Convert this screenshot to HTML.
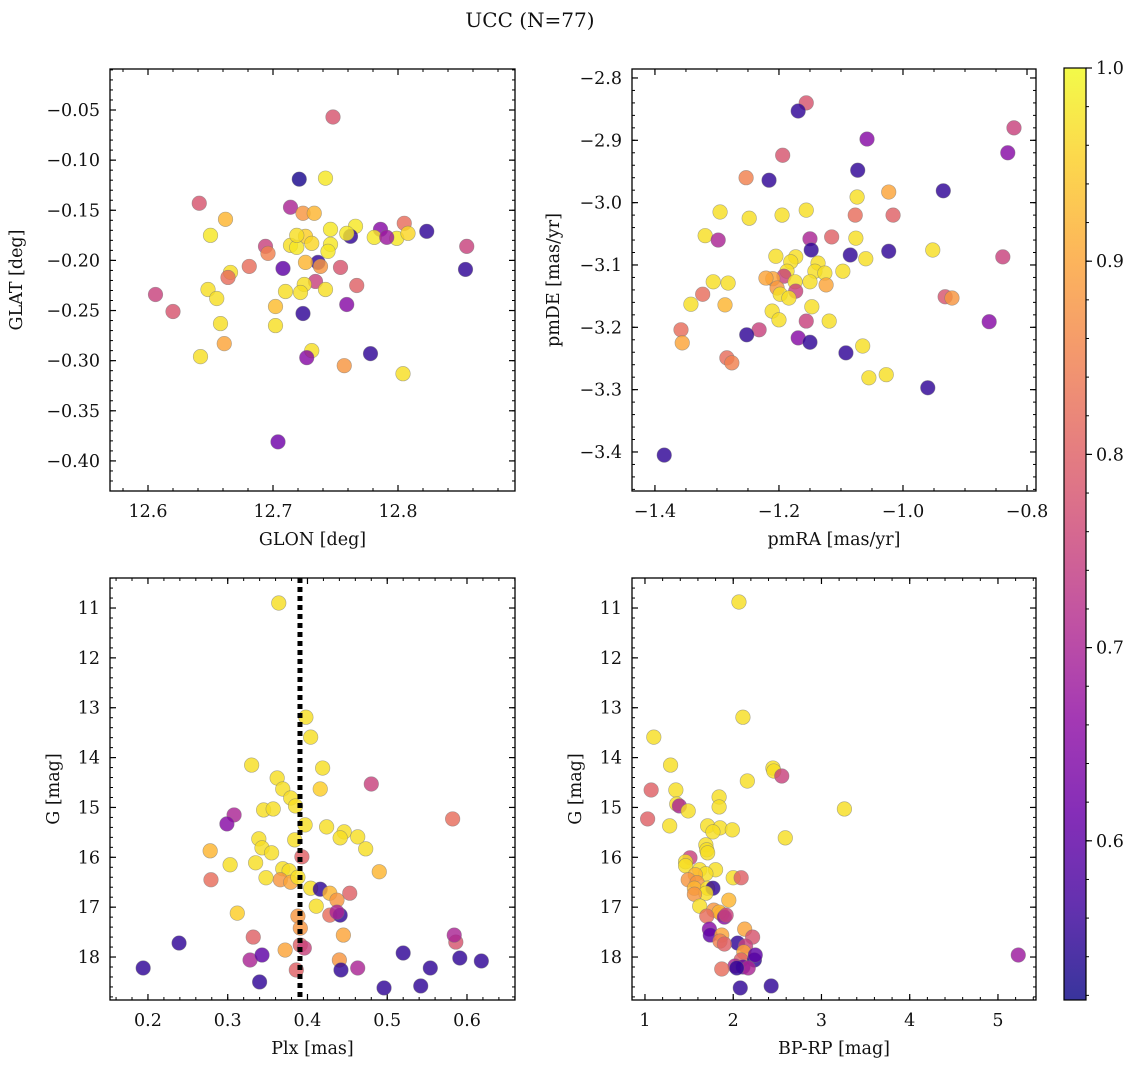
<!DOCTYPE html>
<html><head><meta charset="utf-8"><style>
body{margin:0;background:#fff}
svg text{font-family:"DejaVu Serif","Liberation Serif",serif;fill:#111}
</style></head><body>
<svg id="chart" width="1136" height="1068" viewBox="0 0 1136 1068" xmlns="http://www.w3.org/2000/svg">
<text x="530" y="27" font-size="20" text-anchor="middle">UCC (N=77)</text>
</svg>
<script>
// ---- data (per panel) ----
const p1Glon=[12.748,12.721,12.742,12.641,12.714,12.662,12.724,12.733,12.805,12.766,12.746,12.786,12.823,12.762,12.759,12.726,12.781,12.799,12.808,12.791,12.650,12.694,12.714,12.719,12.731,12.746,12.744,12.696,12.855,12.736,12.726,12.738,12.681,12.754,12.708,12.854,12.666,12.664,12.734,12.725,12.767,12.710,12.722,12.648,12.655,12.606,12.742,12.702,12.759,12.620,12.724,12.658,12.702,12.661,12.731,12.778,12.642,12.727,12.757,12.804,12.704,12.719];
const p1Glat=[-0.057,-0.119,-0.118,-0.143,-0.147,-0.159,-0.153,-0.153,-0.163,-0.166,-0.169,-0.169,-0.171,-0.176,-0.173,-0.176,-0.177,-0.178,-0.173,-0.177,-0.175,-0.186,-0.185,-0.187,-0.183,-0.184,-0.191,-0.193,-0.186,-0.202,-0.202,-0.206,-0.206,-0.207,-0.208,-0.209,-0.212,-0.217,-0.221,-0.224,-0.225,-0.231,-0.232,-0.229,-0.238,-0.234,-0.229,-0.246,-0.244,-0.251,-0.253,-0.263,-0.265,-0.283,-0.290,-0.293,-0.296,-0.297,-0.305,-0.313,-0.381,-0.175];
const p1Prob=[0.78,0.53,0.98,0.78,0.70,0.92,0.88,0.92,0.82,0.98,0.98,0.65,0.55,0.55,0.98,0.95,0.98,0.98,0.96,0.68,0.98,0.75,0.97,0.98,0.96,0.98,0.98,0.85,0.75,0.55,0.92,0.88,0.82,0.78,0.60,0.55,0.97,0.82,0.75,0.97,0.80,0.97,0.97,0.97,0.97,0.75,0.97,0.93,0.65,0.78,0.55,0.97,0.97,0.90,0.97,0.55,0.97,0.65,0.88,0.97,0.62,0.97];

const p2Pmra=[-1.156,-1.169,-0.821,-1.058,-1.073,-0.831,-1.194,-1.216,-1.253,-1.074,-1.023,-0.935,-1.295,-1.156,-1.248,-1.077,-1.016,-1.195,-1.319,-1.298,-1.115,-1.076,-1.150,-1.205,-1.173,-1.085,-1.148,-1.023,-0.952,-0.839,-1.060,-1.137,-1.181,-1.187,-1.142,-1.126,-1.097,-1.192,-1.210,-1.221,-1.174,-1.150,-1.306,-1.282,-1.124,-1.203,-1.173,-1.198,-1.184,-1.323,-1.342,-0.932,-0.921,-1.287,-1.147,-1.211,-1.200,-1.156,-1.119,-0.861,-1.232,-1.358,-1.252,-1.169,-1.150,-1.356,-1.065,-1.092,-1.284,-1.276,-1.027,-1.055,-0.960,-1.385];
const p2Pmde=[-2.840,-2.853,-2.880,-2.898,-2.948,-2.920,-2.924,-2.964,-2.960,-2.991,-2.983,-2.981,-3.015,-3.012,-3.025,-3.020,-3.020,-3.020,-3.053,-3.060,-3.055,-3.057,-3.058,-3.086,-3.087,-3.084,-3.076,-3.078,-3.076,-3.087,-3.090,-3.097,-3.095,-3.110,-3.110,-3.113,-3.110,-3.118,-3.122,-3.121,-3.127,-3.127,-3.127,-3.129,-3.132,-3.137,-3.142,-3.147,-3.153,-3.147,-3.163,-3.151,-3.153,-3.164,-3.167,-3.174,-3.188,-3.190,-3.190,-3.191,-3.204,-3.204,-3.212,-3.217,-3.224,-3.225,-3.230,-3.241,-3.249,-3.257,-3.276,-3.281,-3.297,-3.405];
const p2Prob=[0.78,0.55,0.75,0.65,0.55,0.65,0.78,0.55,0.85,0.97,0.90,0.55,0.97,0.97,0.97,0.82,0.80,0.97,0.97,0.70,0.80,0.97,0.70,0.97,0.97,0.55,0.55,0.55,0.97,0.75,0.97,0.97,0.97,0.97,0.97,0.97,0.97,0.75,0.90,0.90,0.97,0.97,0.97,0.97,0.90,0.88,0.75,0.97,0.97,0.82,0.97,0.78,0.88,0.92,0.97,0.97,0.97,0.75,0.97,0.65,0.75,0.82,0.55,0.65,0.55,0.90,0.97,0.55,0.82,0.85,0.97,0.97,0.55,0.55];

const p3Plx=[0.364,0.398,0.404,0.330,0.362,0.369,0.419,0.416,0.480,0.379,0.385,0.345,0.357,0.308,0.299,0.397,0.424,0.446,0.441,0.463,0.582,0.339,0.384,0.343,0.473,0.278,0.355,0.393,0.335,0.303,0.490,0.369,0.377,0.348,0.279,0.366,0.379,0.388,0.404,0.416,0.453,0.428,0.437,0.411,0.312,0.428,0.441,0.437,0.388,0.391,0.391,0.445,0.332,0.396,0.372,0.239,0.586,0.584,0.328,0.343,0.520,0.591,0.618,0.440,0.463,0.442,0.386,0.554,0.194,0.340,0.496,0.542];
const p3G=[10.90,13.19,13.59,14.15,14.41,14.63,14.21,14.63,14.53,14.81,14.97,15.05,15.03,15.15,15.33,15.35,15.39,15.49,15.61,15.59,15.23,15.63,15.65,15.81,15.83,15.87,15.91,15.99,16.11,16.15,16.29,16.23,16.27,16.41,16.45,16.45,16.50,16.40,16.62,16.64,16.72,16.72,16.86,16.98,17.12,17.16,17.16,17.10,17.18,17.42,17.76,17.56,17.60,17.82,17.86,17.72,17.70,17.56,18.06,17.96,17.92,18.02,18.08,18.06,18.22,18.26,18.26,18.22,18.22,18.50,18.62,18.58];
const p3Prob=[0.97,0.97,0.97,0.97,0.97,0.97,0.97,0.95,0.75,0.97,0.97,0.97,0.97,0.70,0.65,0.97,0.97,0.97,0.97,0.97,0.82,0.97,0.97,0.97,0.97,0.92,0.97,0.80,0.97,0.97,0.92,0.97,0.97,0.97,0.82,0.88,0.90,0.97,0.97,0.55,0.80,0.92,0.88,0.97,0.95,0.82,0.55,0.70,0.88,0.88,0.80,0.90,0.80,0.75,0.90,0.55,0.78,0.70,0.70,0.60,0.55,0.55,0.55,0.88,0.70,0.55,0.80,0.55,0.55,0.55,0.55,0.55];
const p3PlxLine=0.3906;

const p4Color=[2.065,2.11,1.10,1.29,2.45,2.46,2.55,2.16,1.07,1.35,1.84,1.84,1.36,1.39,1.49,3.26,1.03,1.71,1.85,1.99,1.77,1.28,2.59,1.69,1.70,1.71,1.51,1.46,1.46,1.62,1.80,1.69,1.57,2.00,2.09,1.49,1.59,1.56,1.71,1.77,1.69,1.56,1.95,1.62,1.78,1.87,1.84,1.70,1.90,1.92,2.13,1.73,1.74,1.87,2.22,1.85,2.05,1.90,2.14,2.12,2.09,2.24,2.25,5.23,2.02,2.11,2.17,1.87,2.04,2.08,2.43];
const p4G=[10.88,13.19,13.59,14.15,14.21,14.27,14.37,14.47,14.65,14.65,14.79,14.99,14.93,14.97,15.07,15.03,15.23,15.37,15.41,15.45,15.49,15.37,15.61,15.75,15.85,15.91,16.01,16.09,16.17,16.25,16.25,16.33,16.35,16.41,16.41,16.45,16.51,16.62,16.62,16.62,16.72,16.74,16.86,16.98,17.06,17.14,17.10,17.18,17.20,17.16,17.44,17.44,17.56,17.56,17.60,17.68,17.72,17.74,17.78,17.90,18.06,18.06,17.96,17.96,18.18,18.20,18.22,18.24,18.22,18.62,18.58];
const p4Prob=[0.97,0.97,0.97,0.97,0.97,0.97,0.75,0.97,0.80,0.97,0.97,0.97,0.97,0.70,0.97,0.97,0.80,0.97,0.97,0.97,0.97,0.97,0.97,0.97,0.97,0.97,0.75,0.97,0.97,0.97,0.97,0.97,0.92,0.97,0.80,0.88,0.88,0.92,0.97,0.55,0.97,0.88,0.92,0.97,0.88,0.90,0.92,0.82,0.65,0.75,0.90,0.65,0.60,0.90,0.78,0.85,0.55,0.80,0.75,0.90,0.80,0.55,0.60,0.68,0.70,0.60,0.70,0.82,0.55,0.55,0.55];

const cbTicks=[0.6,0.7,0.8,0.9,1.0];
const VMIN=0.5176, VMAX=1.0;

// ---- plasma colormap ----
const PL=["#0d0887","#41049d","#6a00a8","#8f0da4","#b12a90","#cc4778","#e16462","#f2844b","#fca636","#fcce25","#f0f921"];
function hx(h){return [1,3,5].map(i=>parseInt(h.substr(i,2),16));}
function plasma(t){t=Math.max(0,Math.min(1,t));const f=t*10,i=Math.min(9,Math.floor(f)),u=f-i;const a=hx(PL[i]),b=hx(PL[i+1]);return 'rgb('+a.map((v,k)=>Math.round(v+(b[k]-v)*u)).join(',')+')';}
function cmap(v){return plasma((v-VMIN)/(VMAX-VMIN));}

const svg=document.getElementById('chart');
const NS='http://www.w3.org/2000/svg';
function mk(tag,at,parent){const e=document.createElementNS(NS,tag);for(const k in at)e.setAttribute(k,at[k]);(parent||svg).appendChild(e);return e;}

function panel(cfg){
  const g=mk('g',{});
  
  
  const {x0,x1,y0,y1,xmin,xmax,ymin,ymax,inv}=cfg;
  const sx=v=>x0+(v-xmin)/(xmax-xmin)*(x1-x0);
  const sy=v=>inv? y0+(v-ymin)/(ymax-ymin)*(y1-y0) : y1-(v-ymin)/(ymax-ymin)*(y1-y0);
  const eps=1e-9;
  for(let k=Math.ceil(xmin/cfg.xminor-eps);k*cfg.xminor<=xmax+eps;k++){const v=k*cfg.xminor,px=sx(v);
    mk('line',{x1:px,x2:px,y1:y1,y2:y1-3,stroke:'#000','stroke-width':1},g);mk('line',{x1:px,x2:px,y1:y0,y2:y0+3,stroke:'#000','stroke-width':1},g);}
  cfg.xticks.forEach(v=>{const px=sx(v);
    mk('line',{x1:px,x2:px,y1:y1,y2:y1-6,stroke:'#000','stroke-width':1.2},g);mk('line',{x1:px,x2:px,y1:y0,y2:y0+6,stroke:'#000','stroke-width':1.2},g);
    const t=mk('text',{x:px,y:y1+26,'font-size':17.5,'text-anchor':'middle'},g);t.textContent=cfg.xfmt(v);
    
    });
  for(let k=Math.ceil(Math.min(ymin,ymax)/cfg.yminor-eps);k*cfg.yminor<=Math.max(ymin,ymax)+eps;k++){const v=k*cfg.yminor,py=sy(v);
    mk('line',{x1:x0,x2:x0+3,y1:py,y2:py,stroke:'#000','stroke-width':1},g);mk('line',{x1:x1,x2:x1-3,y1:py,y2:py,stroke:'#000','stroke-width':1},g);}
  cfg.yticks.forEach(v=>{const py=sy(v);
    mk('line',{x1:x0,x2:x0+6,y1:py,y2:py,stroke:'#000','stroke-width':1.2},g);mk('line',{x1:x1,x2:x1-6,y1:py,y2:py,stroke:'#000','stroke-width':1.2},g);
    const t=mk('text',{x:x0-10,y:py+6,'font-size':17.5,'text-anchor':'end'},g);t.textContent=cfg.yfmt(v);
    
    });
  const pg=mk('g',{},g);
  
  
  cfg.xs.forEach((xv,i)=>{const c=mk('circle',{cx:sx(xv),cy:sy(cfg.ys[i]),r:7.3,fill:cmap(cfg.cs[i]),'fill-opacity':0.82,stroke:'#777','stroke-opacity':0.6,'stroke-width':0.6},pg);
    
    });
  if(cfg.vline!==undefined){const l=mk('line',{x1:sx(cfg.vline),x2:sx(cfg.vline),y1:y0,y2:y1,stroke:'#000','stroke-width':5,'stroke-dasharray':'5,4'},g);
    
    }
  const fr=mk('rect',{x:x0,y:y0,width:x1-x0,height:y1-y0,fill:'none',stroke:'#000','stroke-width':1.3},g);
  
  
  const xl=mk('text',{x:(x0+x1)/2,y:y1+54,'font-size':17.5,'text-anchor':'middle'},g);xl.textContent=cfg.xlabel;
  
  
  const yl=mk('text',{x:0,y:0,'font-size':17.5,'text-anchor':'middle',transform:`translate(${cfg.ylx},${(y0+y1)/2}) rotate(-90)`},g);yl.textContent=cfg.ylabel;
  
  
}
const f2=v=>v.toFixed(2).replace('-','\u2212'), f1=v=>v.toFixed(1).replace('-','\u2212'), f0=v=>v.toFixed(0);
const rng=(a,b,s)=>{const r=[];for(let v=a;v<=b+1e-9;v+=s)r.push(+v.toFixed(6));return r;};

panel({name:'glon-glat-panel',x0:110,x1:515,y0:69,y1:491,xmin:12.5696,xmax:12.8936,ymin:-0.430,ymax:-0.0091,
  xticks:[12.6,12.7,12.8],xminor:0.02,yticks:rng(-0.40,-0.05,0.05),yminor:0.01,xfmt:f1,yfmt:f2,
  xs:p1Glon,ys:p1Glat,cs:p1Prob,xlabel:'GLON [deg]',ylabel:'GLAT [deg]',ylx:22});
panel({name:'pm-panel',x0:632,x1:1036,y0:69,y1:491,xmin:-1.437,xmax:-0.7855,ymin:-3.4626,ymax:-2.7856,
  xticks:rng(-1.4,-0.8,0.2),xminor:0.05,yticks:rng(-3.4,-2.8,0.1),yminor:0.02,xfmt:f1,yfmt:f1,
  xs:p2Pmra,ys:p2Pmde,cs:p2Prob,xlabel:'pmRA [mas/yr]',ylabel:'pmDE [mas/yr]',ylx:559});
panel({name:'plx-g-panel',x0:110,x1:515,y0:578,y1:1000,xmin:0.1524,xmax:0.6602,ymin:10.398,ymax:18.862,inv:true,
  xticks:rng(0.2,0.6,0.1),xminor:0.02,yticks:rng(11,18,1),yminor:0.2,xfmt:f1,yfmt:f0,
  xs:p3Plx,ys:p3G,cs:p3Prob,vline:p3PlxLine,xlabel:'Plx [mas]',ylabel:'G [mag]',ylx:59});
panel({name:'cmd-panel',x0:632,x1:1036,y0:578,y1:1000,xmin:0.853,xmax:5.431,ymin:10.398,ymax:18.862,inv:true,
  xticks:[1,2,3,4,5],xminor:0.2,yticks:rng(11,18,1),yminor:0.2,xfmt:f0,yfmt:f0,
  xs:p4Color,ys:p4G,cs:p4Prob,xlabel:'BP-RP [mag]',ylabel:'G [mag]',ylx:581});

// colorbar
(function(){
  const cx0=1064,cx1=1086,cy0=68,cy1=1000;
  const g=mk('g',{});
  
  
  const defs=mk('defs',{},g);const lg=mk('linearGradient',{id:'cbg',x1:0,y1:1,x2:0,y2:0},defs);
  for(let i=0;i<=20;i++)mk('stop',{offset:i/20,'stop-color':plasma(i/20),'stop-opacity':0.82},lg);
  mk('rect',{x:cx0,y:cy0,width:cx1-cx0,height:cy1-cy0,fill:'url(#cbg)'},g);
  const sy=v=>cy1-(v-VMIN)/(VMAX-VMIN)*(cy1-cy0);
  for(let v=0.52;v<=1.0001;v+=0.02){const py=sy(v);mk('line',{x1:cx1,x2:cx1+3,y1:py,y2:py,stroke:'#000','stroke-width':1},g);}
  cbTicks.forEach(v=>{const py=sy(v);mk('line',{x1:cx1,x2:cx1+6,y1:py,y2:py,stroke:'#000','stroke-width':1.2},g);
    const t=mk('text',{x:cx1+10,y:py+6,'font-size':17.5},g);t.textContent=v.toFixed(1);
    
    });
  mk('rect',{x:cx0,y:cy0,width:cx1-cx0,height:cy1-cy0,fill:'none',stroke:'#000','stroke-width':1.2},g);
})();
</script>
</body></html>
